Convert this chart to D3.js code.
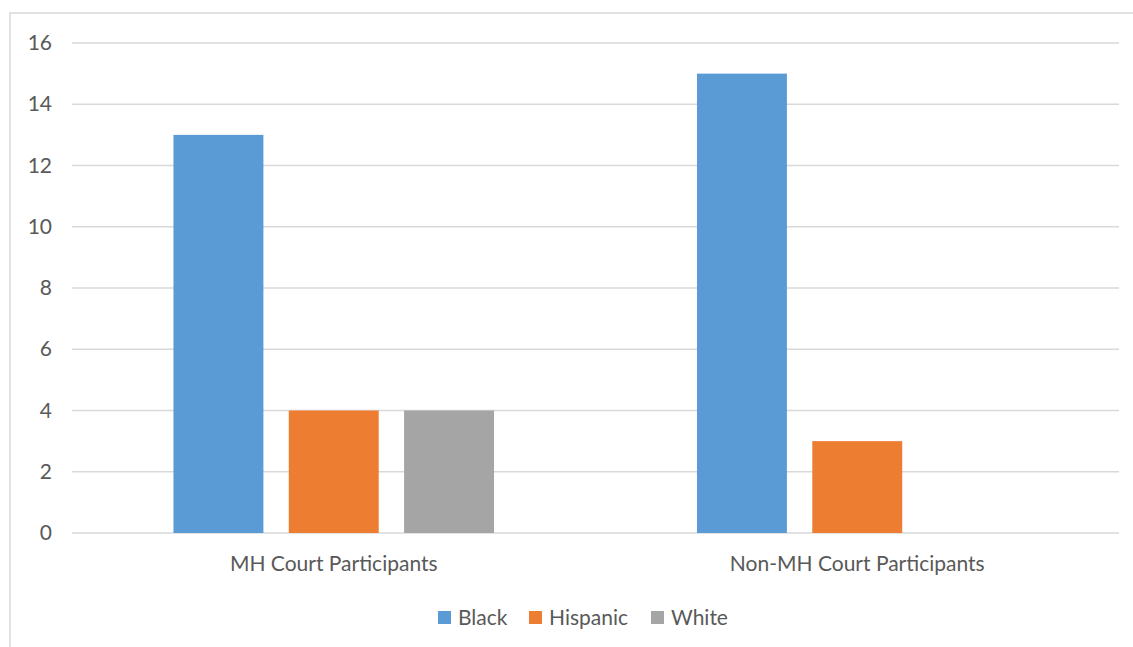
<!DOCTYPE html>
<html>
<head>
<meta charset="utf-8">
<script src="https://cdn.jsdelivr.net/npm/d3@7"></script>
<style>
  html, body { margin: 0; padding: 0; background: #fff; }
  svg { display: block; font-family: Lato, "Open Sans", sans-serif; }
</style>
</head>
<body>
<svg id="chart" width="1133" height="647"></svg>
<script>
// Participants by race, per court group
const categories = ["MH Court Participants", "Non-MH Court Participants"];
const seriesNames = ["Black", "Hispanic", "White"];
const black = [13, 15];
const hispanic = [4, 3];
const white = [4, 0];
const yTicks = [0, 2, 4, 6, 8, 10, 12, 14, 16];
const colors = ["#5B9BD5", "#ED7D31", "#A5A5A5"];

const seriesValues = [black, hispanic, white];
const rows = categories.map((c, i) => ({
  category: c,
  values: seriesNames.map((s, j) => ({ series: s, value: seriesValues[j][i] }))
}));

const svg = d3.select("#chart");
const plot = { left: 72, right: 1119, top: 43, bottom: 533 };
const fontSize = "21px";

// Chart frame
svg.append("rect")
  .attr("x", 10).attr("y", 13)
  .attr("width", 1140).attr("height", 660)
  .attr("fill", "none")
  .attr("stroke", "#d9d9d9")
  .attr("stroke-width", 1.5);

const x0 = d3.scaleBand().domain(categories).range([plot.left, plot.right]).padding(0);
const x1 = d3.scaleBand().domain(seriesNames).range([0, x0.bandwidth()])
  .paddingInner(0.22).paddingOuter(0.88);
const y = d3.scaleLinear().domain([0, 16]).range([plot.bottom, plot.top]);
const color = d3.scaleOrdinal().domain(seriesNames).range(colors);

// Horizontal gridlines
svg.append("g")
  .selectAll("line")
  .data(yTicks)
  .join("line")
  .attr("x1", plot.left).attr("x2", plot.right)
  .attr("y1", d => y(d)).attr("y2", d => y(d))
  .attr("stroke", "#d9d9d9")
  .attr("stroke-width", 1.3);

// Y axis labels
const yAxis = d3.axisLeft(y).tickValues(yTicks).tickSize(0).tickPadding(0);
const gy = svg.append("g").attr("transform", "translate(52,0)").call(yAxis);
gy.select(".domain").remove();
gy.selectAll("text")
  .attr("fill", "#595959")
  .style("font-size", fontSize)
  .style("font-family", "Lato, 'Open Sans', sans-serif");

// Bars
svg.append("g")
  .selectAll("g")
  .data(rows)
  .join("g")
  .attr("transform", d => `translate(${x0(d.category)},0)`)
  .selectAll("rect")
  .data(d => d.values)
  .join("rect")
  .attr("x", d => x1(d.series))
  .attr("width", x1.bandwidth())
  .attr("y", d => y(d.value))
  .attr("height", d => y(0) - y(d.value))
  .attr("fill", d => color(d.series));

// X axis labels
const xAxis = d3.axisBottom(x0).tickSize(0).tickPadding(0);
const gx = svg.append("g").attr("transform", `translate(0,${plot.bottom + 23})`).call(xAxis);
gx.select(".domain").remove();
gx.selectAll("text")
  .attr("fill", "#595959")
  .style("font-size", fontSize)
  .style("font-family", "Lato, 'Open Sans', sans-serif");

// Legend
const legendItems = [
  { name: "Black", x: 438 },
  { name: "Hispanic", x: 529 },
  { name: "White", x: 651 }
];
const legend = svg.append("g")
  .selectAll("g")
  .data(legendItems)
  .join("g")
  .attr("transform", d => `translate(${d.x},611)`);
legend.append("rect")
  .attr("width", 13).attr("height", 13)
  .attr("fill", d => color(d.name));
legend.append("text")
  .attr("x", 20).attr("y", 14)
  .attr("fill", "#595959")
  .style("font-size", fontSize)
  .text(d => d.name);
</script>
</body>
</html>
